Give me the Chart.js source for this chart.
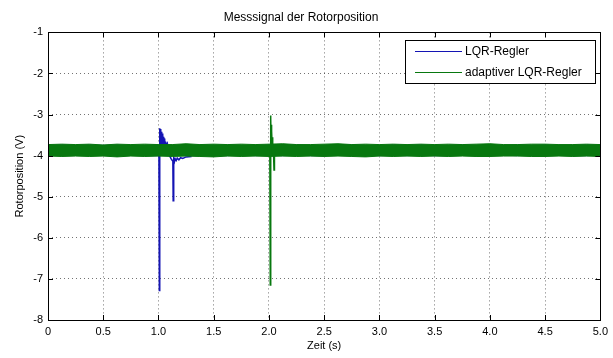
<!DOCTYPE html>
<html>
<head>
<meta charset="utf-8">
<title>Messsignal der Rotorposition</title>
<script src="https://cdn.jsdelivr.net/npm/chart.js@4.4.1/dist/chart.umd.min.js"></script>
<style>
    html, body { margin: 0; padding: 0; background: #fff; }
    #wrap { width: 613px; height: 358px; }
</style>
</head>
<body>
<div id="wrap"><canvas id="rotorChart"></canvas></div>
<script>
// series names / colours
const seriesNames = ['LQR-Regler', 'adaptiver LQR-Regler'];
const seriesColors = ['#1414b4', '#08780f'];

// noise band of both signals (upper / lower edge), time in s, value in V
const bandTime = [0, 0.125, 0.25, 0.375, 0.5, 0.625, 0.75, 0.875, 1, 1.125,
    1.25, 1.375, 1.5, 1.625, 1.75, 1.875, 2, 2.125, 2.25, 2.375,
    2.5, 2.625, 2.75, 2.875, 3, 3.125, 3.25, 3.375, 3.5, 3.625,
    3.75, 3.875, 4, 4.125, 4.25, 4.375, 4.5, 4.625, 4.75, 4.875, 5];
const adaptiveUpper = [-3.73, -3.72, -3.73, -3.72, -3.74, -3.72, -3.73, -3.72, -3.73, -3.73,
    -3.71, -3.73, -3.72, -3.73, -3.72, -3.73, -3.72, -3.71, -3.73, -3.73,
    -3.72, -3.71, -3.73, -3.72, -3.73, -3.72, -3.73, -3.72, -3.73, -3.72,
    -3.73, -3.72, -3.71, -3.73, -3.73, -3.72, -3.72, -3.73, -3.73, -3.72, -3.73];
const adaptiveLower = [-4.01, -4.02, -4.01, -4.02, -4.01, -4.03, -4.01, -4.02, -4.01, -4.02,
    -4.01, -4.02, -4.03, -4.01, -4.02, -4.01, -4.02, -4.01, -4.02, -4.01,
    -4.02, -4.01, -4.02, -4.03, -4.01, -4.02, -4.01, -4.02, -4.01, -4.02,
    -4.01, -4.02, -4.02, -4.01, -4.01, -4.02, -4.02, -4.01, -4.02, -4.01, -4.02];
const lqrUpper = [-3.75, -3.74, -3.75, -3.74, -3.75, -3.74, -3.76, -3.75, -3.74, -3.75,
    -3.76, -3.74, -3.75, -3.74, -3.75, -3.76, -3.74, -3.75, -3.74, -3.76,
    -3.75, -3.74, -3.74, -3.75, -3.76, -3.74, -3.75, -3.74, -3.76, -3.75,
    -3.74, -3.75, -3.74, -3.76, -3.74, -3.75, -3.74, -3.76, -3.75, -3.74, -3.75];
const lqrLower = [-3.99, -4.00, -3.98, -4.00, -3.99, -4.00, -3.99, -4.00, -4.00, -3.99,
    -4.00, -4.00, -3.99, -4.00, -3.98, -4.00, -3.99, -4.00, -3.99, -4.00,
    -4.00, -3.99, -4.00, -3.98, -4.00, -3.99, -4.00, -3.99, -4.00, -4.00,
    -3.99, -4.00, -4.00, -3.99, -4.00, -3.98, -4.00, -3.99, -4.00, -4.00, -3.99];

// disturbance at t = 1 s (LQR-Regler)
const lqrSpikeTime = [0.990, 1.004, 1.008, 1.010, 1.013, 1.016, 1.019, 1.022, 1.025, 1.028,
    1.031, 1.034, 1.037, 1.040, 1.043, 1.046, 1.049, 1.052, 1.055, 1.058,
    1.061, 1.065, 1.070, 1.080, 1.090, 1.100, 1.115, 1.125, 1.130, 1.133,
    1.136, 1.140, 1.145, 1.150, 1.160, 1.170, 1.185, 1.200, 1.220, 1.250, 1.300];
const lqrSpikeValue = [-3.90, -3.85, -7.28, -3.33, -3.75, -3.35, -3.75, -3.38, -3.75, -3.42,
    -3.75, -3.46, -3.75, -3.50, -3.75, -3.54, -3.75, -3.58, -3.75, -3.62,
    -3.75, -3.66, -3.75, -3.70, -3.85, -4.00, -4.08, -4.12, -4.10, -5.10,
    -4.13, -4.08, -4.14, -4.07, -4.12, -4.06, -4.10, -4.05, -4.07, -4.03, -4.02];

// disturbance at t = 2 s (adaptiver LQR-Regler)
const adaptiveSpikeTime = [1.990, 2.008, 2.012, 2.014, 2.016, 2.018, 2.020, 2.022, 2.024, 2.026,
    2.029, 2.032, 2.036, 2.040, 2.046, 2.050, 2.056, 2.070];
const adaptiveSpikeValue = [-3.85, -3.85, -7.15, -3.02, -3.70, -3.10, -3.72, -3.25, -3.74, -3.40,
    -3.75, -3.55, -3.95, -3.80, -4.35, -3.90, -3.85, -3.87];

// axes
const xTicks = [0, 0.5, 1, 1.5, 2, 2.5, 3, 3.5, 4, 4.5, 5];
const yTicks = [-8, -7, -6, -5, -4, -3, -2, -1];

function toPoints(xs, ys) {
    return xs.map((x, i) => ({ x: x, y: ys[i] }));
}

const font = { family: '"Liberation Sans", Arial, sans-serif', size: 11 };

// box frame with inward ticks like the MATLAB figure
const framePlugin = {
    id: 'frame',
    afterDatasetsDraw(chart) {
        const ctx = chart.ctx;
        const a = chart.chartArea;
        const xs = chart.scales.x, ys = chart.scales.y;
        const len = 5;
        ctx.save();
        ctx.strokeStyle = '#000';
        ctx.lineWidth = 1;
        ctx.beginPath();
        xTicks.forEach(v => {
            const px = Math.round(xs.getPixelForValue(v)) + 0.5;
            ctx.moveTo(px, a.bottom); ctx.lineTo(px, a.bottom - len);
            ctx.moveTo(px, a.top); ctx.lineTo(px, a.top + len);
        });
        yTicks.forEach(v => {
            const py = Math.round(ys.getPixelForValue(v)) + 0.5;
            ctx.moveTo(a.left, py); ctx.lineTo(a.left + len, py);
            ctx.moveTo(a.right, py); ctx.lineTo(a.right - len, py);
        });
        ctx.stroke();
        ctx.strokeRect(Math.round(a.left) + 0.5, Math.round(a.top) + 0.5,
            Math.round(a.right - a.left), Math.round(a.bottom - a.top));
        ctx.restore();
    }
};

// legend in a white box, upper right of the plot
const boxLegendPlugin = {
    id: 'boxLegend',
    afterDraw(chart) {
        const ctx = chart.ctx;
        const a = chart.chartArea;
        ctx.save();
        ctx.font = '12px "Liberation Sans", Arial, sans-serif';
        const textW = Math.max(...seriesNames.map(n => ctx.measureText(n).width));
        const lineLen = 47;
        const w = Math.round(10 + lineLen + 3 + textW + 13);
        const h = 43;
        const left = Math.round(a.right - 5 - w);
        const top = Math.round(a.top + 8);
        ctx.fillStyle = '#fff';
        ctx.fillRect(left, top, w, h);
        ctx.strokeStyle = '#000';
        ctx.lineWidth = 1;
        ctx.strokeRect(left + 0.5, top + 0.5, w, h);
        seriesNames.forEach((name, i) => {
            const y = top + 11 + i * 21;
            ctx.strokeStyle = seriesColors[i];
            ctx.beginPath();
            ctx.moveTo(left + 10, y + 0.5);
            ctx.lineTo(left + 10 + lineLen, y + 0.5);
            ctx.stroke();
            ctx.fillStyle = '#000';
            ctx.textBaseline = 'middle';
            ctx.fillText(name, left + 10 + lineLen + 3, y + 1);
        });
        ctx.restore();
    }
};

const lineStyle = { pointRadius: 0, borderWidth: 1, tension: 0, fill: false };

new Chart(document.getElementById('rotorChart'), {
    type: 'line',
    data: {
        datasets: [
            Object.assign({}, lineStyle, {
                label: seriesNames[1],
                data: toPoints(adaptiveSpikeTime, adaptiveSpikeValue),
                borderColor: seriesColors[1],
                borderWidth: 1.5
            }),
            Object.assign({}, lineStyle, {
                label: '',
                data: toPoints(bandTime, adaptiveUpper),
                borderColor: seriesColors[1],
                backgroundColor: seriesColors[1],
                fill: '+1'
            }),
            Object.assign({}, lineStyle, {
                label: '',
                data: toPoints(bandTime, adaptiveLower),
                borderColor: seriesColors[1]
            }),
            Object.assign({}, lineStyle, {
                label: seriesNames[0],
                data: toPoints(lqrSpikeTime, lqrSpikeValue),
                borderColor: seriesColors[0],
                borderWidth: 1.5
            }),
            Object.assign({}, lineStyle, {
                label: '',
                data: toPoints(bandTime, lqrUpper),
                borderColor: seriesColors[0],
                backgroundColor: seriesColors[0],
                fill: '+1'
            }),
            Object.assign({}, lineStyle, {
                label: '',
                data: toPoints(bandTime, lqrLower),
                borderColor: seriesColors[0]
            })
        ]
    },
    options: {
        responsive: true,
        maintainAspectRatio: false,
        animation: false,
        layout: { padding: { top: 0, right: 11, bottom: 0, left: 0 } },
        plugins: {
            legend: { display: false },
            tooltip: { enabled: false },
            title: {
                display: true,
                text: 'Messsignal der Rotorposition',
                color: '#000',
                font: { family: font.family, size: 12, weight: 'normal' },
                padding: { top: 10, bottom: 8 }
            }
        },
        scales: {
            x: {
                type: 'linear',
                min: 0,
                max: 5,
                afterFit(scale) { scale.height = 38; },
                afterBuildTicks(scale) { scale.ticks = xTicks.map(v => ({ value: v })); },
                ticks: { color: '#000', font: font, padding: 5, maxRotation: 0 },
                grid: { color: 'rgba(0,0,0,0.55)', drawTicks: false },
                border: { display: false, dash: [1, 3] },
                title: {
                    display: true,
                    text: 'Zeit (s)',
                    color: '#000',
                    font: font,
                    padding: { top: 0, bottom: 5 }
                }
            },
            y: {
                min: -8,
                max: -1,
                afterFit(scale) { scale.width = 48; },
                afterBuildTicks(scale) { scale.ticks = yTicks.map(v => ({ value: v })); },
                ticks: { color: '#000', font: font, padding: 5 },
                grid: { color: 'rgba(0,0,0,0.55)', drawTicks: false },
                border: { display: false, dash: [1, 3] },
                title: {
                    display: true,
                    text: 'Rotorposition (V)',
                    color: '#000',
                    font: font,
                    padding: { top: 13, bottom: 0 }
                }
            }
        }
    },
    plugins: [framePlugin, boxLegendPlugin]
});
</script>
</body>
</html>
